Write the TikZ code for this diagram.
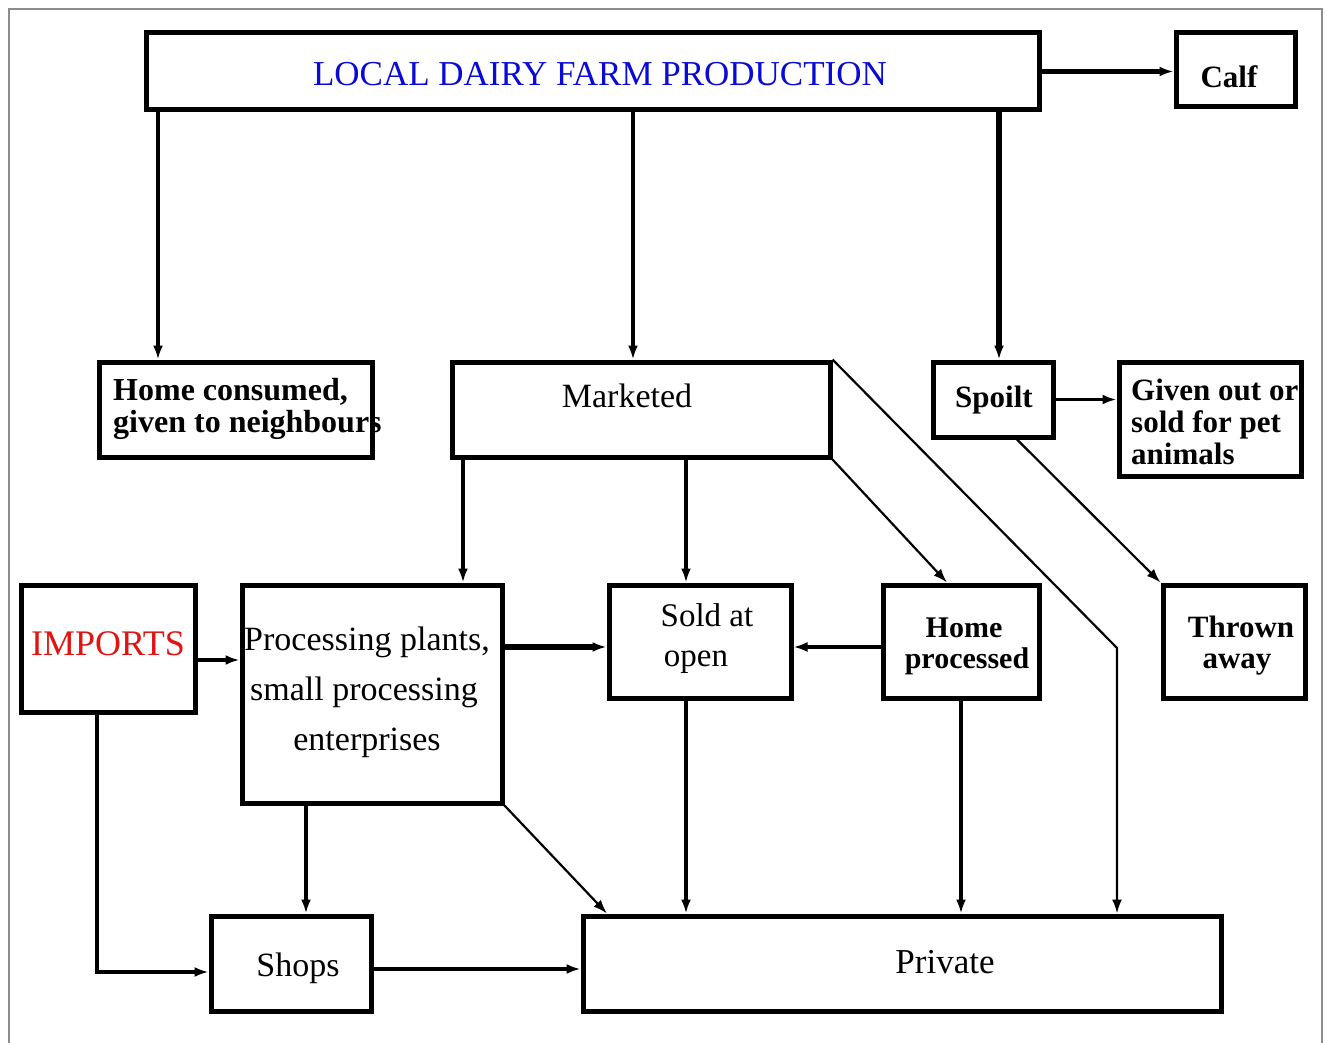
\documentclass[tikz,border=0pt]{standalone}
\usepackage{fontspec}
\setmainfont{Liberation Serif}
\usetikzlibrary{arrows.meta}
\definecolor{ttlblue}{RGB}{10,10,215}
\definecolor{impred}{RGB}{225,20,20}
\definecolor{framegray}{RGB}{140,140,140}
\begin{document}
\begin{tikzpicture}[x=1pt,y=-1pt,
  box/.style={draw, rectangle, line width=5pt, inner sep=0pt},
  txt/.style={inner sep=0pt, anchor=base},
  txtl/.style={inner sep=0pt, anchor=base west},
  reg/.style={font=\fontsize{#1}{#1}\selectfont},
  bld/.style={font=\fontsize{#1}{#1}\selectfont\bfseries},
  arr/.style={-{Latex[length=14pt,width=10pt]}, line width=3.5pt},
  thin/.style={line width=2.2pt},
  thick/.style={line width=5.5pt}]
\useasboundingbox (0,0) rectangle (1327,1043);
\fill[white] (0,0) rectangle (1327,1043);
\draw[framegray, line width=1.5pt] (9,1060) -- (9,9) -- (1322,9) -- (1322,1060);

% texts
\node[txt, reg=35, text=ttlblue] (t-top) at (600,86) {LOCAL DAIRY FARM PRODUCTION};
\node[txt, bld=31] (t-calf) at (1229,88) {Calf};
\node[txtl, bld=32] (t-home1) at (113,400) {Home consumed,};
\node[txtl, bld=32] (t-home2) at (113,432) {given to neighbours};
\node[txt, reg=34] (t-mkt) at (627,407) {Marketed};
\node[txt, bld=31] (t-spoilt) at (994,407) {Spoilt};
\node[txtl, bld=31] (t-pet1) at (1131,400) {Given out or};
\node[txtl, bld=31] (t-pet2) at (1131,432) {sold for pet};
\node[txtl, bld=31] (t-pet3) at (1131,464) {animals};
\node[txt, reg=36, text=impred] (t-imp) at (108,655) {IMPORTS};
\node[txt, reg=34] (t-proc1) at (367,650) {Processing plants,};
\node[txt, reg=34] (t-proc2) at (364,700) {small processing};
\node[txt, reg=34] (t-proc3) at (367,750) {enterprises};
\node[txt, reg=33] (t-sold1) at (707,626) {Sold at};
\node[txt, reg=33] (t-sold2) at (696,666) {open};
\node[txt, bld=30] (t-hp1) at (964,637) {Home};
\node[txt, bld=30] (t-hp2) at (967,668) {processed};
\node[txt, bld=31] (t-th1) at (1241,637) {Thrown};
\node[txt, bld=31] (t-th2) at (1237,668) {away};
\node[txt, reg=34] (t-shops) at (298,976) {Shops};
\node[txt, reg=35] (t-priv) at (945,973) {Private};

% boxes
\node[box, minimum width=893pt, minimum height=77pt] (top) at (592.5,71.5) {};
\node[box, minimum width=119pt, minimum height=74pt] (calf) at (1235.5,70) {};
\node[box, minimum width=273pt, minimum height=95pt] (home) at (235.5,409.5) {};
\node[box, minimum width=378pt, minimum height=95pt] (mkt) at (641,409.5) {};
\node[box, minimum width=120pt, minimum height=75pt] (spoilt) at (993,399.5) {};
\node[box, minimum width=182pt, minimum height=114pt] (pet) at (1210,419) {};
\node[box, minimum width=174pt, minimum height=127pt] (imp) at (108,648.5) {};
\node[box, minimum width=260pt, minimum height=218pt] (proc) at (372,694) {};
\node[box, minimum width=182pt, minimum height=113pt] (sold) at (700,641.5) {};
\node[box, minimum width=156pt, minimum height=113pt] (hproc) at (961,641.5) {};
\node[box, minimum width=142pt, minimum height=113pt] (thrown) at (1234,641.5) {};
\node[box, minimum width=160pt, minimum height=95pt] (shops) at (291,963.5) {};
\node[box, minimum width=638pt, minimum height=95pt] (priv) at (902,963.5) {};

% helper coordinates
\coordinate (c97) at (97,0);
\coordinate (c158) at (158,0);
\coordinate (c306) at (306,0);
\coordinate (c463) at (463,0);
\coordinate (c607) at (607,0);
\coordinate (c633) at (633,0);
\coordinate (c686) at (686,0);
\coordinate (c947) at (947,0);
\coordinate (c999) at (999,0);
\coordinate (c1017) at (1017,0);
\coordinate (r647) at (0,647);
\coordinate (r660) at (0,660);
\coordinate (r969) at (0,969);
\coordinate (r972) at (0,972);
\coordinate (bend) at (1117,648);

% connectors
\draw[arr, line width=4.5pt] (top.east) -- (top.east -| calf.west);
\draw[arr] (top.south -| c158) -- (home.north -| c158);
\draw[arr] (top.south -| c633) -- (mkt.north -| c633);
\draw[arr, thick] (top.south -| c999) -- (spoilt.north -| c999);
\draw[arr] (spoilt.east) -- (spoilt.east -| pet.west);
\draw[arr, thin] (spoilt.south -| c1017) -- (thrown.north west);
\draw[arr] (mkt.south -| c463) -- (proc.north -| c463);
\draw[arr, line width=4.5pt] (mkt.south -| c686) -- (sold.north -| c686);
\draw[arr, thin] (mkt.south east) -- (hproc.north -| c947);
\draw[arr, thin] (mkt.north east) -- (bend) -- (priv.north -| bend);
\draw[arr, line width=4.5pt] (imp.east |- r660) -- (proc.west |- r660);
\draw[arr] (imp.south -| c97) |- (shops.west |- r972);
\draw[arr, thick] (proc.east |- r647) -- (sold.west |- r647);
\draw[arr, line width=4.5pt] (hproc.west |- r647) -- (sold.east |- r647);
\draw[arr] (proc.south -| c306) -- (shops.north -| c306);
\draw[arr, thin] (proc.south east) -- (priv.north -| c607);
\draw[arr, line width=4.5pt] (sold.south -| c686) -- (priv.north -| c686);
\draw[arr] (hproc.south) -- (priv.north -| hproc.south);
\draw[arr] (shops.east |- r969) -- (priv.west |- r969);
\end{tikzpicture}
\end{document}
